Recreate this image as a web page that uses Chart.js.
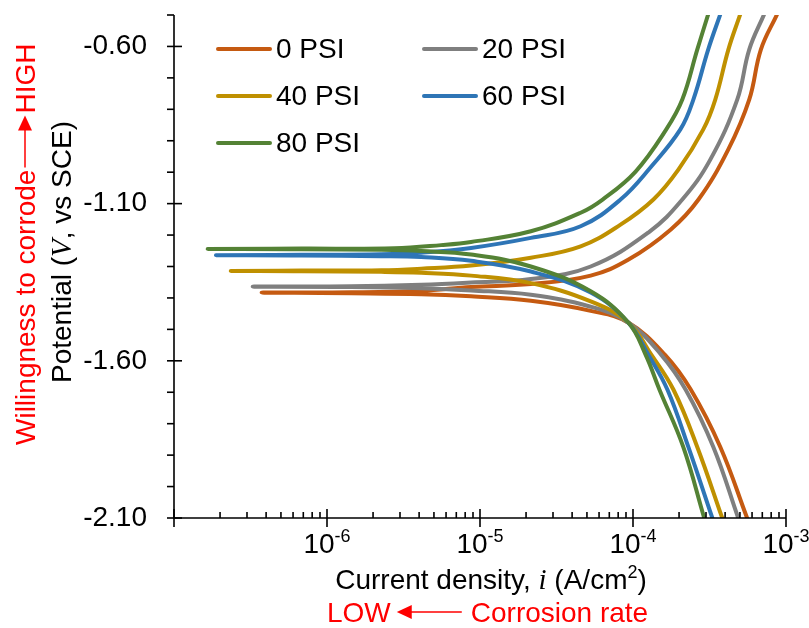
<!DOCTYPE html>
<html>
<head>
<meta charset="utf-8">
<script src="https://cdn.jsdelivr.net/npm/chart.js@4.4.1/dist/chart.umd.min.js"></script>
<style>
  html, body { margin: 0; padding: 0; background: #fff; }
  #c { display: block; }
</style>
</head>
<body>
<canvas id="c" width="809" height="628"></canvas>
<script>
"use strict";

/* ── Polarization curves: current density (A/cm²) vs potential (V vs SCE) ──
   each series runs cathodic end → corrosion potential tip → anodic end */
const LABELS = ["0 PSI", "20 PSI", "40 PSI", "60 PSI", "80 PSI"];
const COLORS = ["#C55A11", "#7F7F7F", "#BF9000", "#2E75B6", "#548235"];

const I_0 = [5.57e-4, 3.72e-4, 2.39e-4, 1.62e-4, 9.35e-5, 5.29e-5, 2.15e-5, 8.74e-6, 4.13e-6, 1.44e-6, 3.74e-7,
             1.44e-6, 4.13e-6, 8.74e-6, 2.15e-5, 5.29e-5, 9.35e-5, 1.76e-4, 2.68e-4, 4.19e-4, 5.75e-4, 6.85e-4, 8.74e-4];
const E_0 = [-2.100, -1.874, -1.692, -1.581, -1.479, -1.441, -1.409, -1.395, -1.388, -1.385, -1.383,
             -1.382, -1.377, -1.365, -1.356, -1.329, -1.278, -1.183, -1.087, -0.928, -0.769, -0.610, -0.498];

const I_20 = [4.87e-4, 3.35e-4, 2.21e-4, 1.53e-4, 9.35e-5, 5.29e-5, 2.15e-5, 8.74e-6, 4.13e-6, 1.44e-6, 3.27e-7,
              1.44e-6, 4.13e-6, 8.74e-6, 2.15e-5, 5.29e-5, 1.26e-4, 2.10e-4, 3.20e-4, 4.80e-4, 5.75e-4, 7.19e-4];
const E_20 = [-2.100, -1.874, -1.692, -1.581, -1.479, -1.428, -1.390, -1.376, -1.369, -1.365, -1.364,
              -1.363, -1.358, -1.351, -1.340, -1.300, -1.192, -1.087, -0.960, -0.769, -0.610, -0.498];

const I_40 = [3.83e-4, 2.63e-4, 1.84e-4, 1.32e-4, 9.35e-5, 5.29e-5, 2.15e-5, 8.74e-6, 4.13e-6, 2.26e-6, 6.82e-7, 2.35e-7,
              6.82e-7, 2.26e-6, 4.13e-6, 8.74e-6, 2.15e-5, 4.55e-5, 8.29e-5, 1.36e-4, 1.98e-4, 2.88e-4, 3.45e-4, 4.20e-4, 5.02e-4];
const E_40 = [-2.100, -1.874, -1.692, -1.581, -1.479, -1.411, -1.353, -1.329, -1.320, -1.317, -1.315, -1.314,
              -1.313, -1.312, -1.307, -1.297, -1.272, -1.236, -1.167, -1.087, -0.992, -0.864, -0.769, -0.610, -0.498];

const I_60 = [3.30e-4, 2.30e-4, 1.68e-4, 1.26e-4, 9.35e-5, 5.29e-5, 2.15e-5, 8.74e-6, 4.13e-6, 2.26e-6, 6.82e-7, 1.88e-7,
              6.82e-7, 2.26e-6, 4.13e-6, 8.74e-6, 2.15e-5, 4.55e-5, 8.29e-5, 1.30e-4, 2.04e-4, 2.48e-4, 3.10e-4, 3.72e-4];
const E_60 = [-2.100, -1.874, -1.692, -1.581, -1.479, -1.383, -1.316, -1.282, -1.270, -1.267, -1.265, -1.264,
              -1.263, -1.261, -1.256, -1.241, -1.209, -1.172, -1.087, -0.985, -0.864, -0.769, -0.610, -0.498];

const I_80 = [2.92e-4, 2.13e-4, 1.49e-4, 1.21e-4, 9.35e-5, 5.29e-5, 2.15e-5, 8.74e-6, 4.13e-6, 2.26e-6, 6.82e-7, 1.66e-7,
              6.82e-7, 2.75e-6, 5.57e-6, 8.74e-6, 2.15e-5, 4.55e-5, 6.33e-5, 1.04e-4, 1.65e-4, 2.10e-4, 2.63e-4, 3.10e-4];
const E_80 = [-2.100, -1.874, -1.692, -1.581, -1.479, -1.379, -1.300, -1.262, -1.251, -1.247, -1.245, -1.244,
              -1.243, -1.242, -1.232, -1.222, -1.188, -1.129, -1.087, -0.998, -0.864, -0.769, -0.610, -0.498];

const SERIES_I = [I_0, I_20, I_40, I_60, I_80];
const SERIES_E = [E_0, E_20, E_40, E_60, E_80];

const X_MIN = 1e-7, X_MAX = 1e-3;
const X_TICK_EXP = [-6, -5, -4, -3];          // labelled decades
const Y_MIN = -2.10, Y_MAX = -0.50, Y_STEP = 0.1;
const Y_LABEL_STEP = 0.5;                      // -2.10, -1.60, -1.10, -0.60

const FONT = '"Liberation Sans", Arial, Helvetica, sans-serif';
const SERIF = '"Liberation Serif", "Times New Roman", serif';
const RED = "#FF0000";

Chart.defaults.font.family = FONT;
Chart.defaults.color = "#000";

function isYMajor(v) {
  const k = (v - Y_MIN) / Y_LABEL_STEP;
  return Math.abs(k - Math.round(k)) < 1e-6;
}

/* text made of runs with different fonts / offsets */
function runsWidth(ctx, runs) {
  let w = 0;
  for (const r of runs) { ctx.font = r.font; w += ctx.measureText(r.text).width; }
  return w;
}
function drawRuns(ctx, runs, x, y) {
  for (const r of runs) {
    ctx.font = r.font;
    ctx.fillText(r.text, x, y + (r.dy || 0));
    x += ctx.measureText(r.text).width;
  }
  return x;
}
function arrow(ctx, tail, tip, y) {
  const dir = Math.sign(tip - tail);
  ctx.beginPath();
  ctx.moveTo(tail, y); ctx.lineTo(tip - dir * 12, y); ctx.stroke();
  ctx.beginPath();
  ctx.moveTo(tip, y); ctx.lineTo(tip - dir * 15, y - 7); ctx.lineTo(tip - dir * 15, y + 7);
  ctx.closePath(); ctx.fill();
}

/* ── axes, ticks, labels, legend and annotations ─────────────── */
const decor = {
  id: "decor",
  afterDraw(chart) {
    const ctx = chart.ctx, a = chart.chartArea;
    const xs = chart.scales.x, ys = chart.scales.y;
    ctx.save();
    ctx.strokeStyle = "#000"; ctx.fillStyle = "#000"; ctx.lineWidth = 1.6;

    // axis lines
    ctx.beginPath();
    ctx.moveTo(a.left, a.top); ctx.lineTo(a.left, a.bottom); ctx.lineTo(a.right, a.bottom);
    ctx.stroke();

    // y ticks: major cross the axis, minor outside
    for (const t of ys.ticks) {
      const py = ys.getPixelForValue(t.value);
      ctx.beginPath();
      ctx.moveTo(a.left - 7, py); ctx.lineTo(isYMajor(t.value) ? a.left + 8 : a.left, py);
      ctx.stroke();
    }

    // x ticks: decades cross the axis, minor inside
    for (let e = -7; e <= -3; e++) {
      const px = xs.getPixelForValue(Math.pow(10, e));
      ctx.beginPath(); ctx.moveTo(px, a.bottom - 9); ctx.lineTo(px, a.bottom + 9); ctx.stroke();
      if (e === -3) break;
      for (let s = 2; s <= 9; s++) {
        const pm = xs.getPixelForValue(s * Math.pow(10, e));
        ctx.beginPath(); ctx.moveTo(pm, a.bottom - 6); ctx.lineTo(pm, a.bottom); ctx.stroke();
      }
    }

    // x tick labels 10^n
    ctx.textBaseline = "alphabetic"; ctx.textAlign = "left";
    for (const e of X_TICK_EXP) {
      const px = xs.getPixelForValue(Math.pow(10, e));
      const runs = [{ text: "10", font: "28px " + FONT }, { text: String(e), font: "18px " + FONT, dy: -11 }];
      drawRuns(ctx, runs, px - runsWidth(ctx, runs) / 2, 553);
    }

    // x title
    const xt = [
      { text: "Current density, ", font: "28px " + FONT },
      { text: "i", font: "italic 29px " + SERIF },
      { text: " (A/cm", font: "28px " + FONT },
      { text: "2", font: "18px " + FONT, dy: -11 },
      { text: ")", font: "28px " + FONT },
    ];
    drawRuns(ctx, xt, 491 - runsWidth(ctx, xt) / 2, 589);

    // y title (rotated)
    const yt = [
      { text: "Potential (", font: "28px " + FONT },
      { text: "V", font: "italic 29px " + SERIF },
      { text: ", vs SCE)", font: "28px " + FONT },
    ];
    ctx.save();
    ctx.translate(71, 252); ctx.rotate(-Math.PI / 2);
    drawRuns(ctx, yt, -runsWidth(ctx, yt) / 2, 0);
    ctx.restore();

    // red annotations
    ctx.fillStyle = RED; ctx.strokeStyle = RED; ctx.lineWidth = 1.5;
    ctx.font = "28px " + FONT;
    const lowW = ctx.measureText("LOW").width;
    ctx.fillText("LOW", 327, 622);
    const tip = 327 + lowW + 6, tail = tip + 65;
    arrow(ctx, tail, tip, 612);
    ctx.fillText("Corrosion rate", tail + 9, 622);

    ctx.save();
    ctx.translate(35, 445); ctx.rotate(-Math.PI / 2);
    ctx.font = "28px " + FONT;
    const wW = ctx.measureText("Willingness to corrode").width;
    ctx.fillText("Willingness to corrode", 0, 0);
    arrow(ctx, wW + 2, wW + 54, -10);
    ctx.fillText("HIGH", wW + 56, 0);
    ctx.restore();

    // legend, two columns
    const colX = [218, 424], rowY = [49, 96, 143];
    ctx.lineCap = "round"; ctx.lineWidth = 4;
    ctx.textBaseline = "middle"; ctx.font = "28px " + FONT; ctx.fillStyle = "#000";
    LABELS.forEach((lab, k) => {
      const x0 = colX[k % 2], y0 = rowY[Math.floor(k / 2)];
      ctx.strokeStyle = COLORS[k];
      ctx.beginPath(); ctx.moveTo(x0, y0); ctx.lineTo(x0 + 52, y0); ctx.stroke();
      ctx.fillText(lab, x0 + 58, y0 + 1);
    });
    ctx.restore();
  },
};

const datasets = LABELS.map((lab, k) => ({
  label: lab,
  data: SERIES_I[k].map((v, j) => ({ x: v, y: SERIES_E[k][j] })),
  borderColor: COLORS[k],
  backgroundColor: COLORS[k],
  borderWidth: 4,
  borderCapStyle: "round",
  borderJoinStyle: "round",
  pointRadius: 0,
  showLine: true,
  tension: 0.4,
  order: LABELS.length - 1 - k,   // 80 PSI drawn on top
}));

new Chart(document.getElementById("c"), {
  type: "scatter",
  data: { datasets },
  options: {
    responsive: false,
    animation: false,
    layout: { padding: { top: 15, right: 23, left: 0, bottom: 0 } },
    scales: {
      x: {
        type: "logarithmic", min: X_MIN, max: X_MAX,
        grid: { display: false, drawTicks: false }, border: { display: false },
        ticks: { display: false },
        afterFit: (s) => { s.height = 110; s.paddingLeft = 0; s.paddingRight = 0; },
      },
      y: {
        type: "linear", min: Y_MIN, max: Y_MAX,
        grid: { display: false, drawTicks: false }, border: { display: false },
        ticks: {
          stepSize: Y_STEP, autoSkip: false, padding: 27, color: "#000",
          font: { size: 28, family: FONT },
          callback: (v) => (isYMajor(v) ? v.toFixed(2) : ""),
        },
        afterFit: (s) => { s.width = 174; s.paddingTop = 0; s.paddingBottom = 0; },
      },
    },
    plugins: { legend: { display: false }, tooltip: { enabled: false } },
  },
  plugins: [decor],
});
</script>
</body>
</html>
